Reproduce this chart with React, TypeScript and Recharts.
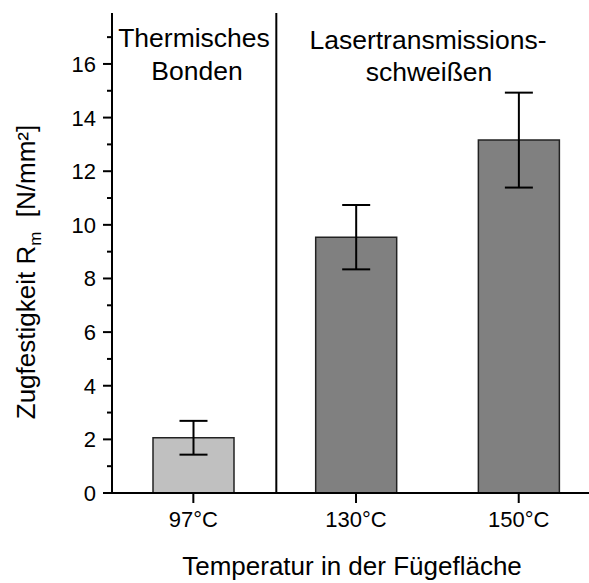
import React from 'react';
import {
  BarChart,
  Bar,
  Cell,
  XAxis,
  YAxis,
  ErrorBar,
  ReferenceLine,
  Customized,
} from 'recharts';

// Tensile strength per joining temperature
const categories = ['97°C', '130°C', '150°C'];
const positions = [1, 2, 3];
const strength = [2.06, 9.54, 13.16];
const strengthErr = [0.63, 1.2, 1.77];
const barColors = ['#c0c0c0', '#808080', '#808080'];

const yTicks = [0, 1, 2, 3, 4, 5, 6, 7, 8, 9, 10, 11, 12, 13, 14, 15, 16, 17];
const yMax = 17.9;
const xDomain = [0.5, 3.432];
// boundary between the two process groups
const groupDivider = 1.51;

const FONT = '"Liberation Sans", Arial, sans-serif';

const data = categories.map((label, i) => ({
  label,
  pos: positions[i],
  value: strength[i],
  err: strengthErr[i],
}));

const YTick = (props: any) => {
  const { x, y, payload } = props;
  const major = payload.value % 2 === 0;
  return (
    <g>
      <line x1={x} x2={x - (major ? 9 : 5)} y1={y} y2={y} stroke="#000" strokeWidth={2} />
      {major && (
        <text
          x={x - 16}
          y={y}
          dy="0.36em"
          textAnchor="end"
          fontSize={22}
          fontFamily={FONT}
          fill="#000"
        >
          {payload.value}
        </text>
      )}
    </g>
  );
};

const XTick = (props: any) => {
  const { x, y, payload } = props;
  const idx = positions.indexOf(payload.value);
  return (
    <g>
      <line x1={x} x2={x} y1={y} y2={y + 10} stroke="#000" strokeWidth={2} />
      <text x={x} y={y + 34} textAnchor="middle" fontSize={22} fontFamily={FONT} fill="#000">
        {categories[idx]}
      </text>
    </g>
  );
};

const Annotations = () => (
  <g fontFamily={FONT} fill="#000">
    <text x={194} y={47} textAnchor="middle" fontSize={26.5}>Thermisches</text>
    <text x={197} y={80} textAnchor="middle" fontSize={26.5}>Bonden</text>
    <text x={428} y={49} textAnchor="middle" fontSize={26.5}>Lasertransmissions-</text>
    <text x={429} y={81} textAnchor="middle" fontSize={26.5}>schweißen</text>
    <text x={352} y={575} textAnchor="middle" fontSize={26}>Temperatur in der Fügefläche</text>
    <text
      transform="translate(35, 272) rotate(-90)"
      textAnchor="middle"
      fontSize={26}
      style={{ whiteSpace: 'pre' }}
    >
      Zugfestigkeit R
      <tspan fontSize={17} dy={6}>m</tspan>
      <tspan dy={-6}>{'  [N/mm²]'}</tspan>
    </text>
  </g>
);

const App: React.FC = () => {
  return (
    <div style={{ position: 'absolute', left: 0, top: 0, background: '#fff' }}>
      <BarChart
        width={589}
        height={583}
        data={data}
        margin={{ top: 13, right: 0, bottom: 30, left: 52 }}
      >
        <XAxis
          dataKey="pos"
          type="number"
          domain={xDomain}
          allowDataOverflow
          ticks={positions}
          height={60}
          tickSize={0}
          tickMargin={0}
          tick={<XTick />}
          axisLine={{ stroke: '#000', strokeWidth: 2 }}
        />
        <YAxis
          type="number"
          domain={[0, yMax]}
          allowDataOverflow
          ticks={yTicks}
          interval={0}
          width={60}
          tickSize={0}
          tickMargin={0}
          tick={<YTick />}
          axisLine={{ stroke: '#000', strokeWidth: 2 }}
        />
        <ReferenceLine x={groupDivider} stroke="#000" strokeWidth={2} />
        <Bar dataKey="value" barSize={81} stroke="#222" strokeWidth={1.5} isAnimationActive={false}>
          {data.map((d, i) => (
            <Cell key={d.label} fill={barColors[i]} />
          ))}
          <ErrorBar dataKey="err" width={14} stroke="#000" strokeWidth={2} isAnimationActive={false} />
        </Bar>
        <Customized component={<Annotations />} />
      </BarChart>
    </div>
  );
};

export default App;
